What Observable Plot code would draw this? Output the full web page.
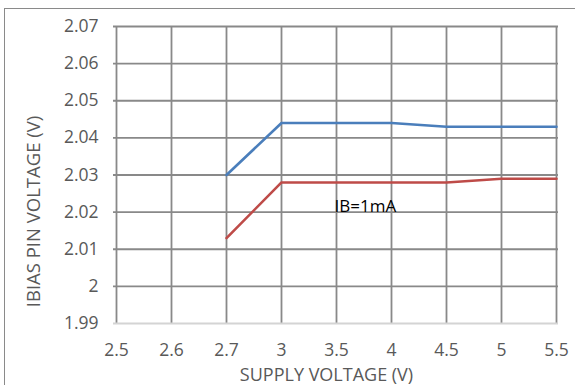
<!DOCTYPE html>
<html>
<head>
<meta charset="utf-8">
<script src="https://cdn.jsdelivr.net/npm/d3@7"></script>
<script src="https://cdn.jsdelivr.net/npm/@observablehq/plot@0.6"></script>
<style>
  html, body { margin: 0; padding: 0; background: #fff; }
  #wrap { position: relative; width: 575px; height: 385px; overflow: hidden; background: #fff; }
  #border { position: absolute; left: 4px; top: 8px; width: 700px; height: 500px;
            border: 1.5px solid #8a8a8a; box-sizing: border-box; }
  #chart { position: absolute; left: 0; top: 0; }
</style>
</head>
<body>
<div id="wrap"><div id="border"></div><div id="chart"></div></div>
<script>
// Supply-voltage categories on the horizontal axis (evenly spaced)
const supplyVoltage = ["2.5", "2.6", "2.7", "3", "3.5", "4", "4.5", "5", "5.5"];
// Supply voltages at which the pin voltage was measured
const measuredAt = ["2.7", "3", "3.5", "4", "4.5", "5", "5.5"];
// IBIAS pin voltage (V), upper trace
const upperTrace = [2.030, 2.044, 2.044, 2.044, 2.043, 2.043, 2.043];
// IBIAS pin voltage (V), lower trace (IB = 1 mA)
const lowerTrace = [2.013, 2.028, 2.028, 2.028, 2.028, 2.029, 2.029];
// Vertical axis ticks
const yTicks = [1.99, 2.00, 2.01, 2.02, 2.03, 2.04, 2.05, 2.06, 2.07];

const upperRows = measuredAt.map((v, i) => ({v, y: upperTrace[i]}));
const lowerRows = measuredAt.map((v, i) => ({v, y: lowerTrace[i]}));

const font = "'Open Sans', sans-serif";
const gridColor = "#898989";
const textColor = "#595959";

const chart = Plot.plot({
  width: 575,
  height: 385,
  marginLeft: 113,
  marginRight: 17,
  marginTop: 26,
  marginBottom: 62,
  style: {fontFamily: font, background: "transparent", color: textColor},
  x: {type: "point", domain: supplyVoltage, padding: 0},
  y: {domain: [1.99, 2.07]},
  marks: [
    Plot.gridX(supplyVoltage, {stroke: gridColor, strokeOpacity: 1, strokeWidth: 1.8}),
    Plot.gridY(yTicks.slice(1), {stroke: gridColor, strokeOpacity: 1, strokeWidth: 1.8}),
    Plot.ruleY([1.99], {stroke: "#d4d4d4", strokeWidth: 2}),
    Plot.axisY(yTicks, {
      tickSize: 0, tickPadding: 15, fontSize: 17.5, fill: textColor,
      tickFormat: d => String(+d.toFixed(2)), label: null
    }),
    Plot.axisX(supplyVoltage, {
      tickSize: 0, tickPadding: 20, fontSize: 17.5, fill: textColor, label: null
    }),
    Plot.line(upperRows, {x: "v", y: "y", stroke: "#4a7ebb", strokeWidth: 2.6}),
    Plot.line(lowerRows, {x: "v", y: "y", stroke: "#be4b48", strokeWidth: 2.6}),
    Plot.text(["IB=1mA"], {
      x: () => "3.5", y: () => 2.0215, text: d => d,
      textAnchor: "start", lineAnchor: "middle", dx: -2,
      fontSize: 17, fill: "#000"
    }),
    Plot.text(["IBIAS PIN VOLTAGE (V)"], {
      frameAnchor: "left", rotate: -90, text: d => d, textAnchor: "middle",
      dx: -79, dy: 36.5, fontSize: 18.5, fill: textColor, lineAnchor: "middle"
    }),
    Plot.text(["SUPPLY VOLTAGE (V)"], {
      frameAnchor: "bottom", text: d => d, textAnchor: "middle",
      dx: -9.5, dy: 51.5, fontSize: 18, fill: textColor, lineAnchor: "middle"
    })
  ]
});

document.getElementById("chart").appendChild(chart);
</script>
</body>
</html>
